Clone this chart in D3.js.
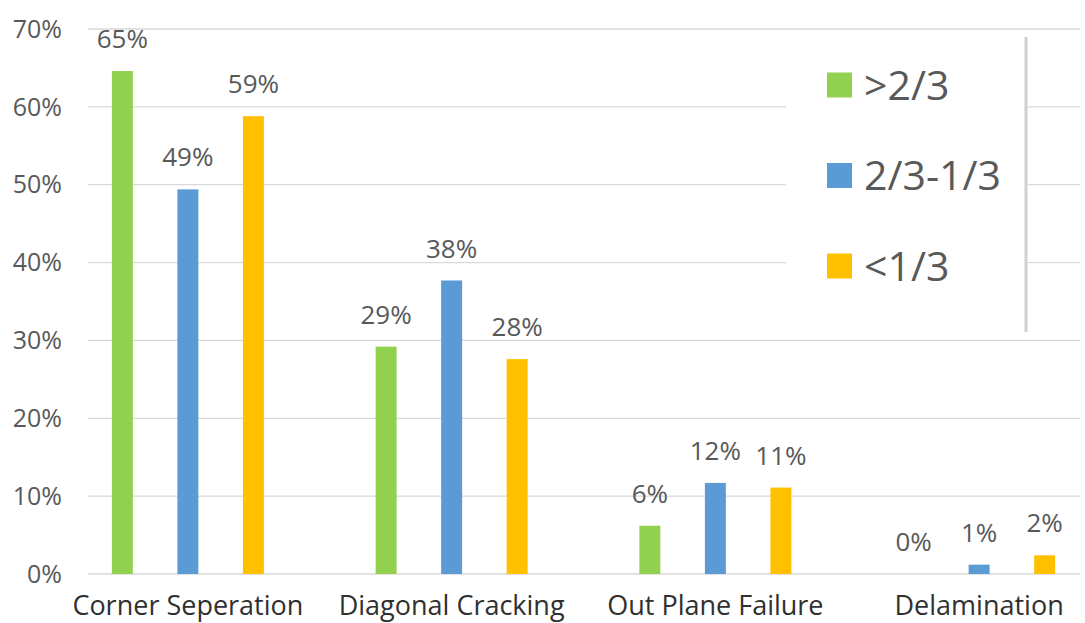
<!DOCTYPE html>
<html>
<head>
<meta charset="utf-8">
<script src="https://cdn.jsdelivr.net/npm/d3@7/dist/d3.min.js"></script>
<style>
  html, body { margin: 0; padding: 0; background: #ffffff; }
  svg { display: block; font-family: "Open Sans", "Noto Sans", sans-serif; }
</style>
</head>
<body>
<svg id="chart" width="1085" height="623"></svg>
<script>
// Failure modes and the share of each crack-length class
const categories = ["Corner Seperation", "Diagonal Cracking", "Out Plane Failure", "Delamination"];
const seriesNames = [">2/3", "2/3-1/3", "<1/3"];
const seriesColors = ["#92D050", "#5B9BD5", "#FFC000"];
const seriesGreater = [0.646, 0.292, 0.062, 0.0];
const seriesMiddle  = [0.494, 0.377, 0.117, 0.012];
const seriesLess    = [0.588, 0.276, 0.111, 0.024];
const yTicks = [0, 0.1, 0.2, 0.3, 0.4, 0.5, 0.6, 0.7];

const seriesValues = [seriesGreater, seriesMiddle, seriesLess];

const svg = d3.select("#chart");
const textColor = "#595959";

const gridLeft = 88, gridRight = 1080;
const y = d3.scaleLinear().domain([0, 0.7]).range([574, 29]);

const x0 = d3.scaleBand().domain(categories).range([56, 1111]);
const half = x0.bandwidth() / 2;
const x1 = d3.scaleBand().domain(seriesNames)
  .range([half - 76, half + 76])
  .paddingInner(0.68).paddingOuter(0);

// horizontal gridlines
svg.append("g").selectAll("line").data(yTicks).join("line")
  .attr("x1", gridLeft).attr("x2", gridRight)
  .attr("y1", d => y(d)).attr("y2", d => y(d))
  .attr("stroke", "#D9D9D9").attr("stroke-width", 1.3);

// y axis labels
const fmt = d3.format(".0%");
svg.append("g").selectAll("text").data(yTicks).join("text")
  .attr("x", 62).attr("y", d => y(d))
  .attr("dy", "0.35em")
  .attr("text-anchor", "end")
  .attr("fill", textColor)
  .attr("font-size", 25)
  .text(d => fmt(d));

// bars and value labels
const groups = svg.append("g").selectAll("g").data(categories).join("g")
  .attr("transform", c => `translate(${x0(c)},0)`);

groups.each(function(c, ci) {
  const g = d3.select(this);
  seriesNames.forEach((s, si) => {
    const v = seriesValues[si][ci];
    g.append("rect")
      .attr("x", x1(s)).attr("width", x1.bandwidth())
      .attr("y", y(v)).attr("height", y(0) - y(v))
      .attr("fill", seriesColors[si]);
    g.append("text")
      .attr("x", x1(s) + x1.bandwidth() / 2)
      .attr("y", y(v) - 32)
      .attr("dy", "0.35em")
      .attr("text-anchor", "middle")
      .attr("fill", textColor)
      .attr("font-size", 26)
      .text(fmt(v));
  });
});

// category labels
svg.append("g").selectAll("text").data(categories).join("text")
  .attr("x", c => x0(c) + half)
  .attr("y", 615)
  .attr("text-anchor", "middle")
  .attr("fill", "#303030")
  .attr("font-size", 27)
  .text(c => c);

// legend panel
const legend = svg.append("g");
legend.append("rect")
  .attr("x", 786).attr("y", 37).attr("width", 240).attr("height", 295)
  .attr("fill", "#ffffff");
legend.append("line")
  .attr("x1", 1026).attr("x2", 1026).attr("y1", 37).attr("y2", 332)
  .attr("stroke", "#D0D0D0").attr("stroke-width", 3);

seriesNames.forEach((s, i) => {
  const cy = 85 + i * 90.5;
  legend.append("rect")
    .attr("x", 827).attr("y", cy - 12.5).attr("width", 25).attr("height", 25)
    .attr("fill", seriesColors[i]);
  legend.append("text")
    .attr("x", 864).attr("y", cy)
    .attr("dy", "0.36em")
    .attr("fill", textColor)
    .attr("font-size", 41)
    .text(s);
});
</script>
</body>
</html>
